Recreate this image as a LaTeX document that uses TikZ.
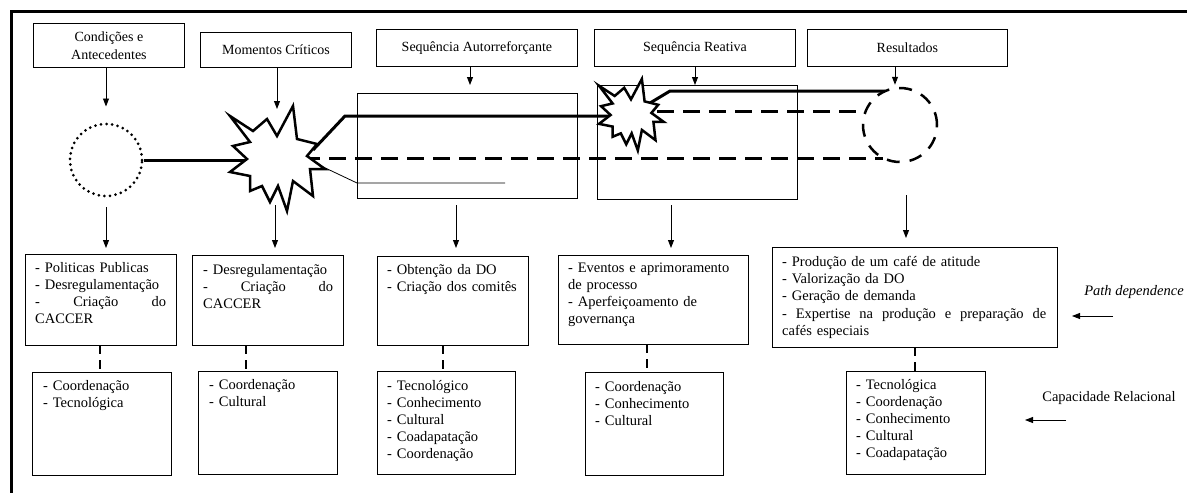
\documentclass[tikz,border=0pt]{standalone}
\usepackage{fontspec}
\setmainfont{Liberation Serif}
\usetikzlibrary{arrows.meta}
\begin{document}
\begin{tikzpicture}[x=1pt,y=-1pt,
  box/.style={draw, line width=0.9pt, inner sep=0pt, anchor=north west},
  hbox/.style={box, align=center, font=\fontsize{14}{18}\selectfont},
  txt/.style={inner sep=0pt, anchor=north west, align=left, font=\fontsize{14.5}{17}\selectfont},
  arr/.style={line width=0.9pt, -{Triangle[length=8pt,width=6pt]}},
  thickline/.style={line width=3pt},
  thickdash/.style={line width=3pt, dash pattern=on 17pt off 9pt},
  linkdash/.style={line width=2.5pt, dash pattern=on 9pt off 6pt},
  thinline/.style={line width=0.8pt},
  explosion/.pic={\draw[line width=2.5pt, fill=white, line join=miter, miter limit=6]
    (-47,-43) -- (-24,-28) -- (-10,-40) -- (0,-23) -- (16,-53) -- (20,-20) -- (40,-15)
    -- (30,-3) -- (48,10) -- (33,10) -- (36,37) -- (16,22) -- (10,52) -- (1,27)
    -- (-7,43) -- (-15,27) -- (-27,32) -- (-27,17) -- (-47,13) -- (-30,0)
    -- (-44,-13) -- (-27,-17) -- cycle;}
]
\useasboundingbox (0,0) rectangle (1187,493);
% frame
\draw[line width=3pt] (11,493) -- (11,11) -- (1187,11);

% header boxes
\node[hbox, minimum width=151pt, minimum height=44pt] (h1) at (33,23) {Condições e\\Antecedentes};
\node[hbox, minimum width=151pt, minimum height=35pt] (h2) at (200,32) {Momentos Críticos};
\node[hbox, minimum width=201pt, minimum height=37pt] (h3) at (376,29) {Sequência Autorreforçante};
\node[hbox, minimum width=201pt, minimum height=37pt] (h4) at (594,29) {Sequência Reativa};
\node[hbox, minimum width=200pt, minimum height=37pt] (h5) at (807,29) {Resultados};

% middle rectangles
\node[box, minimum width=220pt, minimum height=105pt] (r3) at (357,93) {};
\node[box, minimum width=200pt, minimum height=114pt] (r4) at (597,85) {};

% circles
\node[circle, draw, inner sep=0pt, minimum size=72pt, line width=3pt,
      dash pattern=on 0pt off 5.6pt, line cap=round] (c1) at (106,160) {};
\node[circle, draw, inner sep=0pt, minimum size=74pt, line width=2.5pt,
      dash pattern=on 13pt off 10pt] (c2) at (900,125) {};

% star centres and path points
\coordinate (s1) at (277,159);
\coordinate (s2) at (631,115);
\coordinate (s1ne) at (313,150);
\coordinate (k1) at (345,116);
\coordinate (s2ne) at (650,103);
\coordinate (k2) at (670,91);
\coordinate (c2t) at (885,91);
\coordinate (c2w) at (866,111);
\coordinate (c2b) at (883,158);
\coordinate (t0) at (300,156);
\coordinate (t1) at (357,183);
\coordinate (t2) at (505,183);

% connectors in the band
\draw[thickline] (c1.east) -- (c1.east -| s1);
\draw[thickline] (s1ne) -- (k1) -- (k1 -| s2);
\draw[thickdash] (s1 |- c2b) -- (c2b);
\draw[thickdash] (s2 |- c2w) -- (c2w);
\draw[thickline] (s2ne) -- (k2) -- (c2t);
\draw[thinline] (t0) -- (t1) -- (t2);

% stars
\pic at (s1) {explosion};
\pic[scale=0.68] at (s2) {explosion};

% top arrows
\draw[arr, shorten >=16pt] (c1.north |- h1.south) -- (c1.north);
\draw[arr, shorten >=50pt] (s1 |- h2.south) -- (s1);
\coordinate (a3top) at (470,66);
\draw[arr, shorten >=8pt] (a3top) -- (a3top |- r3.north);
\coordinate (a4top) at (695,66);
\draw[arr] (a4top) -- (a4top |- r4.north);
\coordinate (a5top) at (895,66);
\draw[arr, shorten >=2pt] (a5top) -- (a5top |- c2.north);

% row 1 boxes
\node[box, minimum width=151pt, minimum height=91pt] (b1) at (25,254) {};
\node[box, minimum width=151pt, minimum height=90pt] (b2) at (192,255) {};
\node[box, minimum width=151pt, minimum height=89pt] (b3) at (377,256) {};
\node[box, minimum width=190pt, minimum height=89pt] (b4) at (558,255) {};
\node[box, minimum width=285pt, minimum height=100pt] (b5) at (772,247) {};

\node[txt, text width=131pt] (b1t) at ([shift={(10pt,-8pt)}]b1.north west)
  {- Politicas Publicas\\- Desregulamentação\\-\hfill Criação\hfill do\\CACCER};
\node[txt, text width=130pt] (b2t) at ([shift={(11pt,-9pt)}]b2.north west)
  {- Desregulamentação\\-\hfill Criação\hfill do\\CACCER};
\node[txt, text width=131pt] (b3t) at ([shift={(10pt,-8pt)}]b3.north west)
  {- Obtenção da DO\\- Criação dos comitês};
\node[txt, text width=178pt] (b4t) at ([shift={(10pt,-8pt)}]b4.north west)
  {- Eventos e aprimoramento\\de processo\\- Aperfeiçoamento de\\governança};
\node[txt, text width=264pt] (b5t) at ([shift={(10pt,-9pt)}]b5.north west)
  {- Produção de um café de atitude\\- Valorização da DO\\- Geração de demanda\\[1pt]-\hfill Expertise\hfill na\hfill produção\hfill e\hfill preparação\hfill de\\cafés especiais};

% arrows into row 1
\coordinate (a1) at (106,207);
\coordinate (a2) at (275,205);
\coordinate (a3) at (456,205);
\coordinate (a4) at (671,205);
\coordinate (a5) at (906,195);
\draw[arr, shorten >=6pt] (a1) -- (a1 |- b1.north);
\draw[arr, shorten >=7pt] (a2) -- (a2 |- b2.north);
\draw[arr, shorten >=8pt] (a3) -- (a3 |- b3.north);
\draw[arr, shorten >=7pt] (a4) -- (a4 |- b4.north);
\draw[arr, shorten >=9pt] (a5) -- (a5 |- b5.north);

% row 2 boxes
\node[box, minimum width=139pt, minimum height=103pt] (d1) at (32,372) {};
\node[box, minimum width=139pt, minimum height=103pt] (d2) at (198,371) {};
\node[box, minimum width=138pt, minimum height=103pt] (d3) at (377,371) {};
\node[box, minimum width=138pt, minimum height=103pt] (d4) at (585,372) {};
\node[box, minimum width=139pt, minimum height=103pt] (d5) at (846,371) {};

\node[txt, text width=120pt] (d1t) at ([shift={(11pt,-8pt)}]d1.north west)
  {- Coordenação\\- Tecnológica};
\node[txt, text width=120pt] (d2t) at ([shift={(11pt,-8pt)}]d2.north west)
  {- Coordenação\\- Cultural};
\node[txt, text width=120pt] (d3t) at ([shift={(10pt,-9pt)}]d3.north west)
  {- Tecnológico\\- Conhecimento\\- Cultural\\- Coadapatação\\- Coordenação};
\node[txt, text width=120pt] (d4t) at ([shift={(10pt,-9pt)}]d4.north west)
  {- Coordenação\\- Conhecimento\\- Cultural};
\node[txt, text width=120pt] (d5t) at ([shift={(10pt,-8pt)}]d5.north west)
  {- Tecnológica\\- Coordenação\\- Conhecimento\\- Cultural\\- Coadapatação};

% dashed links row1 -> row2
\coordinate (l1) at (100,345);
\coordinate (l2) at (246,345);
\coordinate (l3) at (443,345);
\coordinate (l4) at (647,344);
\coordinate (l5) at (915,347);
\draw[linkdash] (l1) -- (l1 |- d1.north);
\draw[linkdash] (l2) -- (l2 |- d2.north);
\draw[linkdash] (l3) -- (l3 |- d3.north);
\draw[linkdash] (l4) -- (l4 |- d4.north);
\draw[linkdash] (l5) -- (l5 |- d5.north);

% right-hand labels
\node[font=\fontsize{14.5}{17}\selectfont\itshape, inner sep=0pt] (pd) at (1134,292) {Path dependence};
\coordinate (pd1) at (1113,316);
\coordinate (pd2) at (1072,316);
\draw[arr] (pd1) -- (pd2);
\node[font=\fontsize{14.5}{17}\selectfont, inner sep=0pt] (cr) at (1109,398) {Capacidade Relacional};
\coordinate (cr1) at (1066,420);
\coordinate (cr2) at (1025,420);
\draw[arr] (cr1) -- (cr2);
\end{tikzpicture}
\end{document}
